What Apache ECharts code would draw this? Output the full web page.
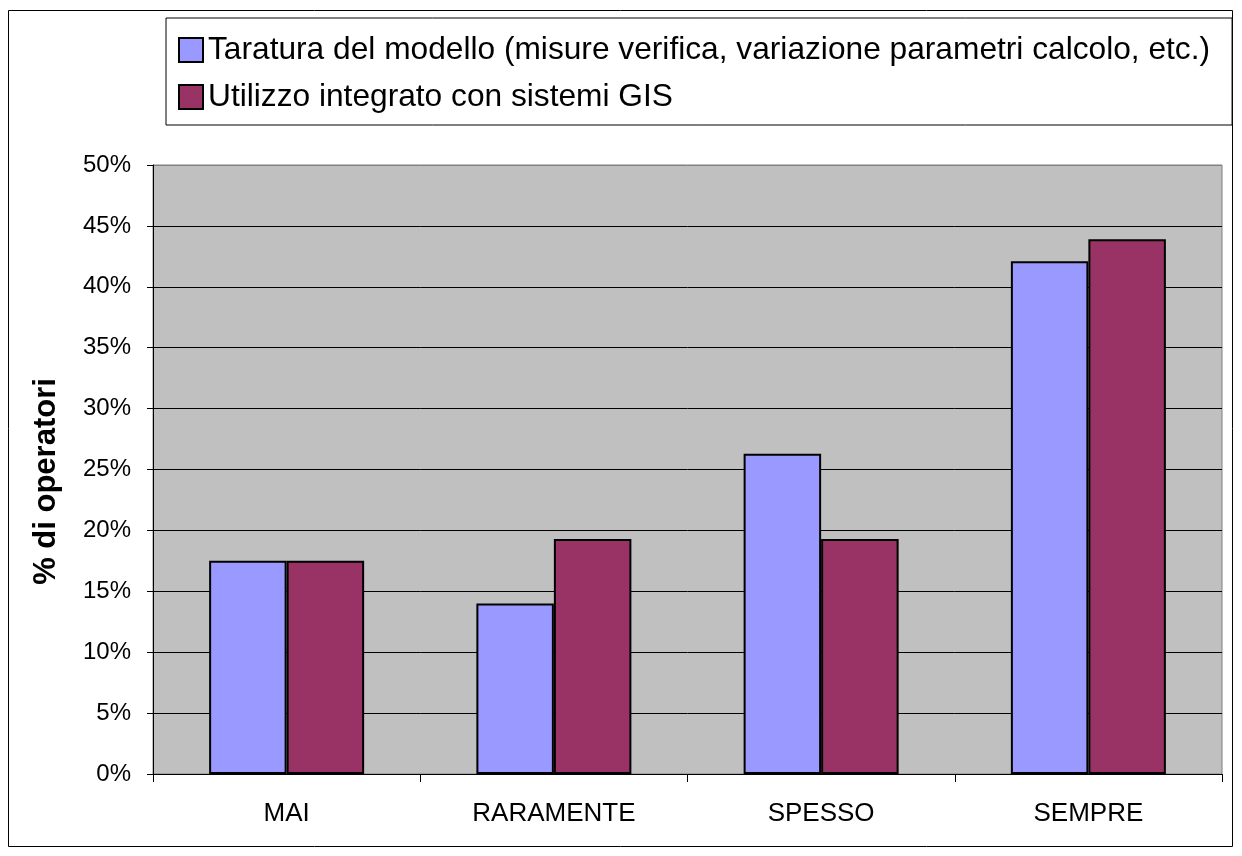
<!DOCTYPE html>
<html>
<head>
<meta charset="utf-8">
<script src="https://cdn.jsdelivr.net/npm/echarts@6/dist/echarts.min.js"></script>
<style>
html,body{margin:0;padding:0;background:#fff;}
#chart{width:1242px;height:856px;}
</style>
</head>
<body>
<div id="chart"></div>
<script>
// categorie e valori (% di operatori)
var categorie = ['MAI', 'RARAMENTE', 'SPESSO', 'SEMPRE'];
var taratura = [17.5, 14.0, 26.3, 42.1];
var utilizzoGis = [17.5, 19.3, 19.3, 43.9];
var nomiSerie = [
	'Taratura del modello (misure verifica, variazione parametri calcolo, etc.)',
	'Utilizzo integrato con sistemi GIS'
];

var myChart = echarts.init(document.getElementById('chart'));
var font = 'Liberation Sans, Arial, sans-serif';

// linea dei 50% grigia come il bordo dell'area
var coloriGriglia = [];
for (var i = 0; i < 10; i++) coloriGriglia.push('#000');
coloriGriglia.push('#808080');

var option = {
	animation: false,
	backgroundColor: '#fff',
	graphic: [{
		type: 'rect',
		shape: {x: 8.5, y: 10.5, width: 1224, height: 836},
		style: {fill: 'none', stroke: '#000', lineWidth: 1},
		z: -1
	}],
	legend: {
		orient: 'vertical',
		left: 166,
		top: 18,
		padding: [16, 22, 12, 12],
		backgroundColor: '#fff',
		borderColor: '#000',
		borderWidth: 1,
		itemWidth: 24,
		itemHeight: 24,
		itemGap: 15,
		icon: 'rect',
		textStyle: {fontFamily: font, fontSize: 31.7, lineHeight: 32, color: '#000'},
		data: nomiSerie
	},
	grid: {left: 153, right: 20, top: 165, bottom: 82, backgroundColor: '#c0c0c0', show: true, borderColor: '#808080', borderWidth: 1},
	xAxis: {
		type: 'category',
		data: categorie,
		axisLine: {lineStyle: {color: '#000', width: 1}},
		axisTick: {show: true, length: 8, lineStyle: {color: '#000'}},
		axisLabel: {fontFamily: font, fontSize: 26, color: '#000', margin: 27}
	},
	yAxis: {
		type: 'value',
		min: 0,
		max: 50,
		interval: 5,
		name: '% di operatori',
		nameLocation: 'middle',
		nameGap: 91,
		nameTextStyle: {fontFamily: font, fontSize: 31, fontWeight: 'bold', color: '#000', padding: [0, 24, 0, 0]},
		axisLine: {show: true, lineStyle: {color: '#000'}},
		axisTick: {show: true, length: 6, lineStyle: {color: '#000'}},
		axisLabel: {fontFamily: font, fontSize: 24, color: '#000', margin: 22, formatter: '{value}%'},
		splitLine: {lineStyle: {color: coloriGriglia, width: 1}}
	},
	series: [{
		name: nomiSerie[0],
		type: 'bar',
		data: taratura,
		barGap: '0%',
		barCategoryGap: '42%',
		itemStyle: {color: '#9999ff', borderColor: '#000', borderWidth: 2}
	}, {
		name: nomiSerie[1],
		type: 'bar',
		data: utilizzoGis,
		itemStyle: {color: '#993366', borderColor: '#000', borderWidth: 2}
	}]
};
myChart.setOption(option);
</script>
</body>
</html>
